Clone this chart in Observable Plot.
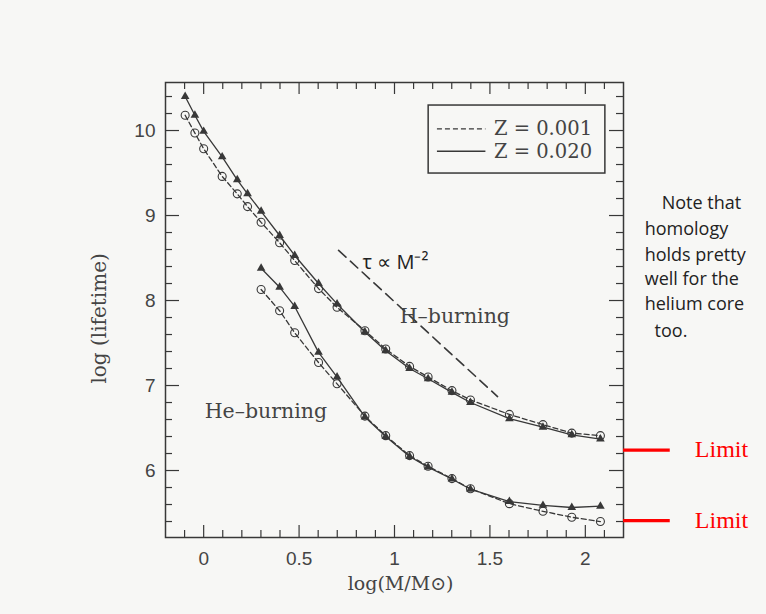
<!DOCTYPE html>
<html>
<head>
<meta charset="utf-8">
<script src="https://cdn.jsdelivr.net/npm/d3@7"></script>
<script src="https://cdn.jsdelivr.net/npm/@observablehq/plot@0.6"></script>
<style>
  html, body { margin: 0; padding: 0; background: #f7f7f5; overflow: hidden; }
  #chart svg { display: block; }
</style>
</head>
<body>
<div id="chart"></div>
<script>
// ---- data ----
const logMass   = [-0.097, -0.046, 0, 0.097, 0.176, 0.230, 0.301, 0.398, 0.477, 0.602, 0.699, 0.845, 0.954, 1.079, 1.176, 1.301, 1.398, 1.602, 1.778, 1.929, 2.079];
const hBurnZ020 = [10.40, 10.18, 9.99, 9.69, 9.42, 9.255, 9.05, 8.765, 8.53, 8.20, 7.96, 7.63, 7.41, 7.20, 7.08, 6.92, 6.80, 6.61, 6.51, 6.42, 6.37];
const hBurnZ001 = [10.18, 9.97, 9.785, 9.46, 9.255, 9.105, 8.92, 8.68, 8.47, 8.14, 7.92, 7.645, 7.43, 7.225, 7.10, 6.94, 6.83, 6.66, 6.54, 6.44, 6.41];

const heLogMass  = [0.301, 0.398, 0.477, 0.602, 0.699, 0.845, 0.954, 1.079, 1.176, 1.301, 1.398, 1.602, 1.778, 1.929, 2.079];
const heBurnZ020 = [8.38, 8.157, 7.93, 7.39, 7.10, 6.63, 6.40, 6.165, 6.04, 5.90, 5.78, 5.635, 5.59, 5.565, 5.58];
const heBurnZ001 = [8.13, 7.88, 7.62, 7.27, 7.02, 6.64, 6.41, 6.175, 6.05, 5.905, 5.785, 5.61, 5.52, 5.45, 5.40];

const tauLineX = [0.707, 1.54];
const tauLineY = [8.59, 6.87];

const limitValues = [6.24, 5.41];

const xMajor = [0, 0.5, 1, 1.5, 2];
const xMinor = [-0.1, 0.1, 0.2, 0.3, 0.4, 0.6, 0.7, 0.8, 0.9, 1.1, 1.2, 1.3, 1.4, 1.6, 1.7, 1.8, 1.9, 2.1];
const yMajor = [6, 7, 8, 9, 10];
const yMinor = [5.4, 5.6, 5.8, 6.2, 6.4, 6.6, 6.8, 7.2, 7.4, 7.6, 7.8, 8.2, 8.4, 8.6, 8.8, 9.2, 9.4, 9.6, 9.8, 10.2, 10.4];

const legendLabels = ["Z = 0.001", "Z = 0.020"];
const noteLines = ["Note that", "homology", "holds pretty", "well for the", "helium core", "too."];

// ---- tables built from the arrays ----
const hZ020 = logMass.map((x, i) => ({x, y: hBurnZ020[i]}));
const hZ001 = logMass.map((x, i) => ({x, y: hBurnZ001[i]}));
const heZ020 = heLogMass.map((x, i) => ({x, y: heBurnZ020[i]}));
const heZ001 = heLogMass.map((x, i) => ({x, y: heBurnZ001[i]}));
const tauLine = tauLineX.map((x, i) => ({x, y: tauLineY[i]}));

const ink = "#383838";
const textInk = "#444";
const serif = "DejaVu Serif";
const sans = "Liberation Sans";

const W = 766, H = 614, mL = 165, mR = 143, mT = 82, mB = 77;
const frameW = W - mL - mR, frameH = H - mT - mB;
const tk = {stroke: ink, strokeWidth: 1.2};

const chart = Plot.plot({
  width: W,
  height: H,
  marginLeft: mL,
  marginRight: mR,
  marginTop: mT,
  marginBottom: mB,
  style: {background: "#f7f7f5", overflow: "visible"},
  x: {domain: [-0.2, 2.2]},
  y: {domain: [5.212, 10.565]},
  marks: [
    Plot.frame({stroke: ink, strokeWidth: 1.5}),
    // inward ticks on all four sides
    Plot.tickX(xMajor, {x: d => d, insetTop: frameH - 12, ...tk}),
    Plot.tickX(xMinor, {x: d => d, insetTop: frameH - 7, ...tk}),
    Plot.tickX(xMajor, {x: d => d, insetBottom: frameH - 12, ...tk}),
    Plot.tickX(xMinor, {x: d => d, insetBottom: frameH - 7, ...tk}),
    Plot.tickY(yMajor, {y: d => d, insetRight: frameW - 14, ...tk}),
    Plot.tickY(yMinor, {y: d => d, insetRight: frameW - 7, ...tk}),
    Plot.tickY(yMajor, {y: d => d, insetLeft: frameW - 14, ...tk}),
    Plot.tickY(yMinor, {y: d => d, insetLeft: frameW - 7, ...tk}),
    // tick labels
    Plot.axisX(xMajor, {anchor: "bottom", tickSize: 0, tickPadding: 14, tickFormat: d => String(d), label: null, fontSize: 19, fontFamily: sans, fill: textInk}),
    Plot.axisY(yMajor, {anchor: "left", tickSize: 0, tickPadding: 10, tickFormat: d => String(d), label: null, fontSize: 19, fontFamily: sans, fill: textInk}),
    // axis titles
    Plot.text(["log(M/M\u2299)"], {x: () => 1.032, y: () => 4.671, text: d => d, fontSize: 19, fontFamily: serif, fill: textInk}),
    Plot.text(["log (lifetime)"], {x: () => -0.547, y: () => 7.79, text: d => d, rotate: -90, fontSize: 20, fontFamily: serif, fill: textInk}),

    // tau ∝ M^-2 scaling line
    Plot.line(tauLine, {x: "x", y: "y", stroke: ink, strokeWidth: 1.6, strokeDasharray: "10,6"}),
    Plot.text(["\u03c4 \u221d M\u207b\u00b2"], {x: () => 1.005, y: () => 8.45, text: d => d, fontSize: 20, fontFamily: "Open Sans", fill: "#222"}),

    // curves
    Plot.line(hZ001, {x: "x", y: "y", stroke: ink, strokeWidth: 1.3, strokeDasharray: "5,3"}),
    Plot.line(heZ001, {x: "x", y: "y", stroke: ink, strokeWidth: 1.3, strokeDasharray: "5,3"}),
    Plot.line(hZ020, {x: "x", y: "y", stroke: ink, strokeWidth: 1.3}),
    Plot.line(heZ020, {x: "x", y: "y", stroke: ink, strokeWidth: 1.3}),
    Plot.dot(hZ001, {x: "x", y: "y", r: 4, stroke: ink, strokeWidth: 1.1, fill: "none"}),
    Plot.dot(heZ001, {x: "x", y: "y", r: 4, stroke: ink, strokeWidth: 1.1, fill: "none"}),
    Plot.dot(hZ020, {x: "x", y: "y", r: 3.2, symbol: "triangle", fill: ink, stroke: "none"}),
    Plot.dot(heZ020, {x: "x", y: "y", r: 3.2, symbol: "triangle", fill: ink, stroke: "none"}),

    // curve labels
    Plot.text(["H\u2013burning"], {x: () => 1.316, y: () => 7.812, text: d => d, fontSize: 20.5, fontFamily: serif, fill: textInk}),
    Plot.text(["He\u2013burning"], {x: () => 0.326, y: () => 6.694, text: d => d, fontSize: 20.5, fontFamily: serif, fill: textInk}),

    // legend box
    Plot.rect([0], {x1: () => 1.179, x2: () => 2.105, y1: () => 9.494, y2: () => 10.294, fill: "none", stroke: ink, strokeWidth: 1.5}),
    Plot.ruleY([10.02], {x1: 1.225, x2: 1.479, stroke: ink, strokeWidth: 1.3, strokeDasharray: "5,3"}),
    Plot.ruleY([9.756], {x1: 1.225, x2: 1.479, stroke: ink, strokeWidth: 1.3}),
    Plot.text(legendLabels, {x: () => 1.521, y: (d, i) => [10.02, 9.756][i], text: d => d, textAnchor: "start", fontSize: 19.5, fontFamily: serif, fill: textInk}),

    // red limit annotations
    Plot.ruleY(limitValues, {x1: 2.2, x2: 2.445, stroke: "#ff0000", strokeWidth: 3.2}),
    Plot.text(limitValues, {x: () => 2.574, y: d => d + 0.01, text: () => "Limit", textAnchor: "start", fontSize: 24, fontFamily: "Liberation Serif", fill: "#ff0000"}),

    // handwritten note
    Plot.text(noteLines, {
      x: (d, i) => [2.4, 2.311, 2.311, 2.311, 2.311, 2.363][i],
      y: (d, i) => [9.141, 8.835, 8.529, 8.247, 7.953, 7.635][i],
      text: d => d, textAnchor: "start", fontSize: 18, fontFamily: "Open Sans", fontWeight: 400, fill: "#222"
    })
  ]
});

document.getElementById("chart").appendChild(chart);
</script>
</body>
</html>
